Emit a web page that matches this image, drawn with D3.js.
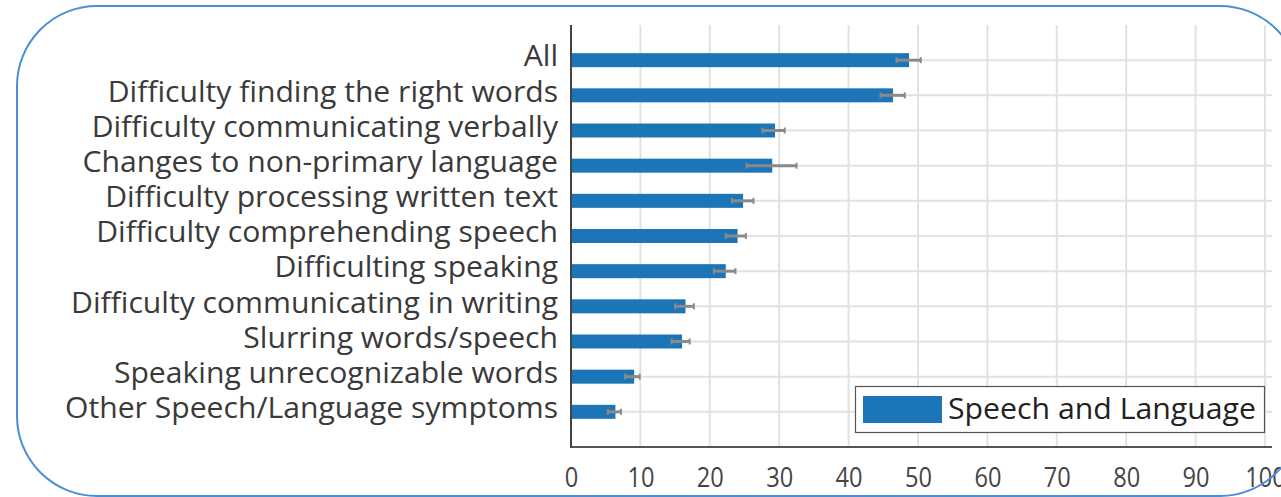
<!DOCTYPE html>
<html>
<head>
<meta charset="utf-8">
<script src="https://cdn.jsdelivr.net/npm/d3@7"></script>
<style>
  body { margin: 0; background: #fff; }
  svg { display: block; }
  text { font-family: "Open Sans", "Noto Sans", sans-serif; }
</style>
</head>
<body>
<svg id="chart" width="1281" height="497"></svg>
<script>
// Symptom categories, top to bottom
const categories = [
  "All",
  "Difficulty finding the right words",
  "Difficulty communicating verbally",
  "Changes to non-primary language",
  "Difficulty processing written text",
  "Difficulty comprehending speech",
  "Difficulting speaking",
  "Difficulty communicating in writing",
  "Slurring words/speech",
  "Speaking unrecognizable words",
  "Other Speech/Language symptoms"
];
// Percent of respondents reporting each symptom
const values  = [48.7, 46.4, 29.4, 29.0, 24.8, 24.0, 22.3, 16.5, 16.0, 9.1, 6.4];
// Confidence interval bounds
const errLow  = [46.9, 44.6, 27.6, 25.3, 23.2, 22.3, 20.6, 15.0, 14.5, 7.8, 5.3];
const errHigh = [50.4, 48.1, 30.8, 32.5, 26.3, 25.2, 23.7, 17.7, 17.1, 9.9, 7.2];
const xTicks  = [0, 10, 20, 30, 40, 50, 60, 70, 80, 90, 100];
const seriesName = "Speech and Language";

const rows = categories.map((c, i) => ({ c, v: values[i], lo: errLow[i], hi: errHigh[i] }));

const svg = d3.select("#chart");
const plot = { left: 571, right: 1272, top: 25, bottom: 447 };

const x = d3.scaleLinear().domain([0, 100]).range([571, 1265]);
const y = d3.scalePoint().domain(categories).range([plot.top, plot.bottom]).padding(1);

const barColor = "#1c75b6";
const gridColor = "#e2e2e2";
const barH = 14;

// Grid
svg.append("g").selectAll("line.v")
  .data(xTicks.filter(t => t > 0))
  .join("line")
  .attr("x1", d => x(d)).attr("x2", d => x(d))
  .attr("y1", plot.top).attr("y2", plot.bottom)
  .attr("stroke", gridColor).attr("stroke-width", 2);

svg.append("g").selectAll("line.h")
  .data(categories)
  .join("line")
  .attr("x1", plot.left).attr("x2", plot.right)
  .attr("y1", d => y(d)).attr("y2", d => y(d))
  .attr("stroke", gridColor).attr("stroke-width", 2);

// Bars
svg.append("g").selectAll("rect")
  .data(rows)
  .join("rect")
  .attr("x", x(0))
  .attr("y", d => y(d.c) - barH / 2)
  .attr("width", d => x(d.v) - x(0))
  .attr("height", barH)
  .attr("fill", barColor);

// Error bars
const eb = svg.append("g").attr("stroke", "#8a8a8a");
eb.selectAll("line.span")
  .data(rows)
  .join("line")
  .attr("x1", d => x(d.lo)).attr("x2", d => x(d.hi))
  .attr("y1", d => y(d.c)).attr("y2", d => y(d.c))
  .attr("stroke-width", 3);
eb.selectAll("line.capL")
  .data(rows)
  .join("line")
  .attr("x1", d => x(d.lo)).attr("x2", d => x(d.lo))
  .attr("y1", d => y(d.c) - 3).attr("y2", d => y(d.c) + 3)
  .attr("stroke-width", 2);
eb.selectAll("line.capR")
  .data(rows)
  .join("line")
  .attr("x1", d => x(d.hi)).attr("x2", d => x(d.hi))
  .attr("y1", d => y(d.c) - 3).attr("y2", d => y(d.c) + 3)
  .attr("stroke-width", 2);

// Axes
const xAxis = svg.append("g")
  .attr("transform", `translate(0,${plot.bottom})`)
  .call(d3.axisBottom(x).tickValues(xTicks).tickSize(0).tickPadding(21));
xAxis.select(".domain").remove();
xAxis.selectAll("text").attr("font-size", 27).attr("fill", "#444")
  .style("font-family", '"Open Sans", sans-serif');

const yAxis = svg.append("g")
  .attr("transform", `translate(${plot.left},0)`)
  .call(d3.axisLeft(y).tickSize(0).tickPadding(13));
yAxis.select(".domain").remove();
yAxis.selectAll("text").attr("font-size", 29).attr("fill", "#3a3a3a").attr("dy", "0.2em")
  .style("font-family", '"Open Sans", sans-serif');

svg.append("line")
  .attr("x1", plot.left).attr("x2", plot.right)
  .attr("y1", plot.bottom).attr("y2", plot.bottom)
  .attr("stroke", "#555").attr("stroke-width", 2);
svg.append("line")
  .attr("x1", plot.left).attr("x2", plot.left)
  .attr("y1", plot.top).attr("y2", plot.bottom + 1)
  .attr("stroke", "#444").attr("stroke-width", 2);

// Legend
const lg = svg.append("g");
lg.append("rect").attr("x", 855.5).attr("y", 386.5).attr("width", 409).attr("height", 46)
  .attr("fill", "#fff").attr("stroke", "#555").attr("stroke-width", 1.2);
lg.append("rect").attr("x", 863).attr("y", 396).attr("width", 79).attr("height", 27)
  .attr("fill", barColor);
const legendText = lg.append("text").attr("x", 948).attr("y", 419)
  .attr("font-size", 29).attr("fill", "#222").text(seriesName);

// Condense text to the face width used by the chart
function condense(sel, k) {
  sel.each(function () {
    const w = this.getComputedTextLength();
    d3.select(this).attr("textLength", w * k).attr("lengthAdjust", "spacingAndGlyphs");
  });
}
const labelNodes = yAxis.selectAll("text");
const longest = d3.max(labelNodes.nodes(), n => n.getComputedTextLength());
condense(labelNodes, 493 / longest);
const tenNode = xAxis.selectAll("text").filter(d => d === 10).node();
condense(xAxis.selectAll("text"), 27 / tenNode.getComputedTextLength());
condense(legendText, 308 / legendText.node().getComputedTextLength());

// Rounded frame
svg.append("rect")
  .attr("x", 17).attr("y", 6).attr("width", 1283).attr("height", 490)
  .attr("rx", 80).attr("ry", 80)
  .attr("fill", "none").attr("stroke", "#4a8fd6").attr("stroke-width", 2);
</script>
</body>
</html>
